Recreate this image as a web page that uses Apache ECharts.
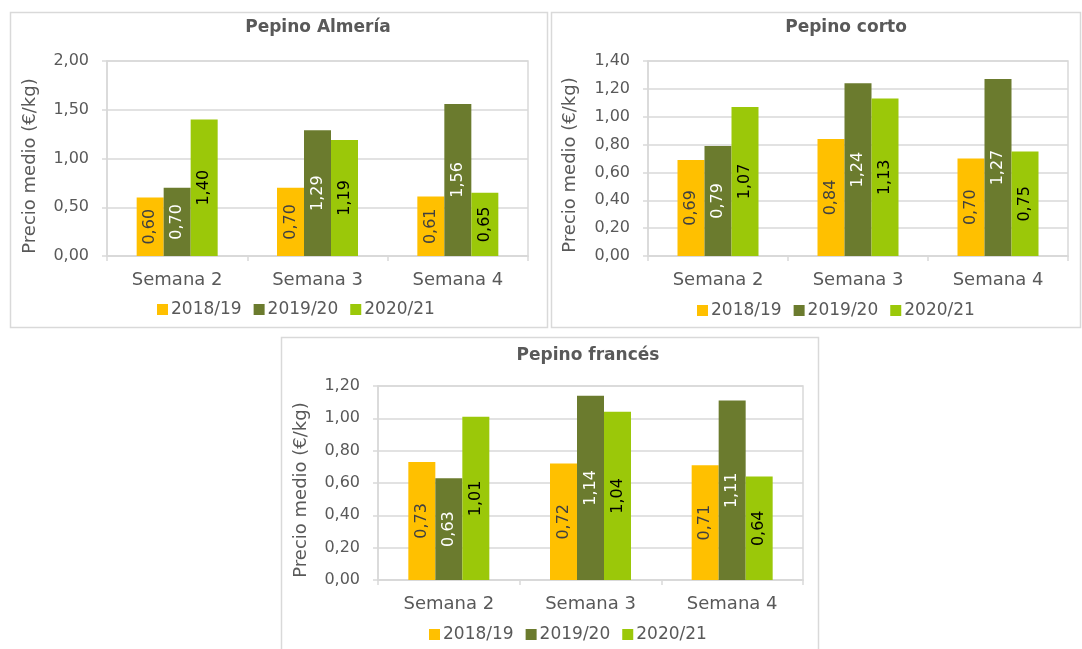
<!DOCTYPE html>
<html>
<head>
<meta charset="utf-8">
<script src="https://cdn.jsdelivr.net/npm/echarts@6/dist/echarts.min.js"></script>
<style>
html,body{margin:0;padding:0;background:#fff;}
#c{width:1082px;height:649px;}
</style>
</head>
<body>
<div id="c"></div>
<script>
const categories = ['Semana 2', 'Semana 3', 'Semana 4'];
const seasons = ['2018/19', '2019/20', '2020/21'];
const titles = ['Pepino Almería', 'Pepino corto', 'Pepino francés'];
const yAxisName = 'Precio medio (€/kg)';

const almeria_1819 = [0.60, 0.70, 0.61];
const almeria_1920 = [0.70, 1.29, 1.56];
const almeria_2021 = [1.40, 1.19, 0.65];

const corto_1819 = [0.69, 0.84, 0.70];
const corto_1920 = [0.79, 1.24, 1.27];
const corto_2021 = [1.07, 1.13, 0.75];

const frances_1819 = [0.73, 0.72, 0.71];
const frances_1920 = [0.63, 1.14, 1.11];
const frances_2021 = [1.01, 1.04, 0.64];

const yMax = [2.0, 1.4, 1.2];
const yInterval = [0.5, 0.2, 0.2];

const panelsData = [
  [almeria_1819, almeria_1920, almeria_2021],
  [corto_1819, corto_1920, corto_2021],
  [frances_1819, frances_1920, frances_2021]
];

const FONT = 'DejaVu Sans';
const GREY = '#595959';
const LINE = '#d9d9d9';
const barColors = ['#FFC000', '#6B7B2E', '#9BC809'];
const labelColors = ['#404040', '#ffffff', '#000000'];

const grids = [
  {left: 107, top: 61, width: 421, height: 195},
  {left: 648, top: 61, width: 420, height: 195},
  {left: 378, top: 386, width: 425, height: 194}
];
const titlePos = [{x: 318, y: 28}, {x: 846, y: 28}, {x: 588, y: 356}];
const namePos = [{x: 30, y: 166}, {x: 570, y: 165}, {x: 301, y: 490}];
const legendPos = [{x: 157, y: 311}, {x: 697, y: 312}, {x: 429, y: 636}];
const panels = [
  {x: 10, y: 12, w: 537, h: 315},
  {x: 551, y: 12, w: 529, h: 315},
  {x: 281, y: 337, w: 537, h: 330}
];

const fmt = v => v.toFixed(2).replace('.', ',');

const graphics = panels.map(p => ({
  type: 'rect', shape: {x: p.x + 0.5, y: p.y + 0.5, width: p.w, height: p.h},
  style: {fill: 'none', stroke: LINE, lineWidth: 1.5}, z: -10
}));
titles.forEach((t, i) => {
  graphics.push({
    type: 'text', x: titlePos[i].x, y: titlePos[i].y,
    style: {text: t, fill: GREY, font: 'bold 17px "DejaVu Sans"', textAlign: 'center', textVerticalAlign: 'middle'}
  });
  graphics.push({
    type: 'text', x: namePos[i].x, y: namePos[i].y, rotation: Math.PI / 2,
    style: {text: yAxisName, fill: GREY, font: '18px "DejaVu Sans"', textAlign: 'center', textVerticalAlign: 'middle'}
  });
});

const option = {
  animation: false,
  backgroundColor: '#fff',
  textStyle: {fontFamily: FONT},
  graphic: graphics,
  legend: seasons.map((s, i) => ({
    data: seasons, left: legendPos[i].x - 5, top: legendPos[i].y - 15,
    itemWidth: 11, itemHeight: 11, itemGap: 12, icon: 'rect',
    textStyle: {fontFamily: FONT, fontSize: 17, color: GREY, padding: [0, 0, 0, -2]},
    selectedMode: false
  })),
  grid: grids.map(g => Object.assign({show: true, borderColor: LINE, borderWidth: 1.5, containLabel: false}, g)),
  xAxis: grids.map((g, i) => ({
    type: 'category', gridIndex: i, data: categories,
    axisLine: {lineStyle: {color: LINE, width: 1.5}},
    axisTick: {show: true, length: 5, lineStyle: {color: LINE, width: 1.5}},
    axisLabel: {fontFamily: FONT, fontSize: 18, color: GREY, margin: 15}
  })),
  yAxis: grids.map((g, i) => ({
    type: 'value', gridIndex: i, min: 0, max: yMax[i], interval: yInterval[i],
    axisLine: {show: true, lineStyle: {color: LINE, width: 1.5}},
    axisTick: {show: true, length: 5, lineStyle: {color: LINE, width: 1.5}},
    splitLine: {lineStyle: {color: LINE, width: 1.5}},
    axisLabel: {fontFamily: FONT, fontSize: 16, color: GREY, margin: 18, formatter: v => fmt(v)}
  })),
  series: []
};

panelsData.forEach((arrs, pi) => {
  arrs.forEach((vals, si) => {
    option.series.push({
      type: 'bar', name: seasons[si], xAxisIndex: pi, yAxisIndex: pi,
      data: vals, barWidth: 27, barGap: '0%',
      itemStyle: {color: barColors[si]},
      label: {
        show: true, position: 'inside', rotate: 90,
        fontFamily: FONT, fontSize: 16, color: labelColors[si],
        formatter: p => fmt(p.value)
      }
    });
  });
});

const chart = echarts.init(document.getElementById('c'));
chart.setOption(option);
</script>
</body>
</html>
